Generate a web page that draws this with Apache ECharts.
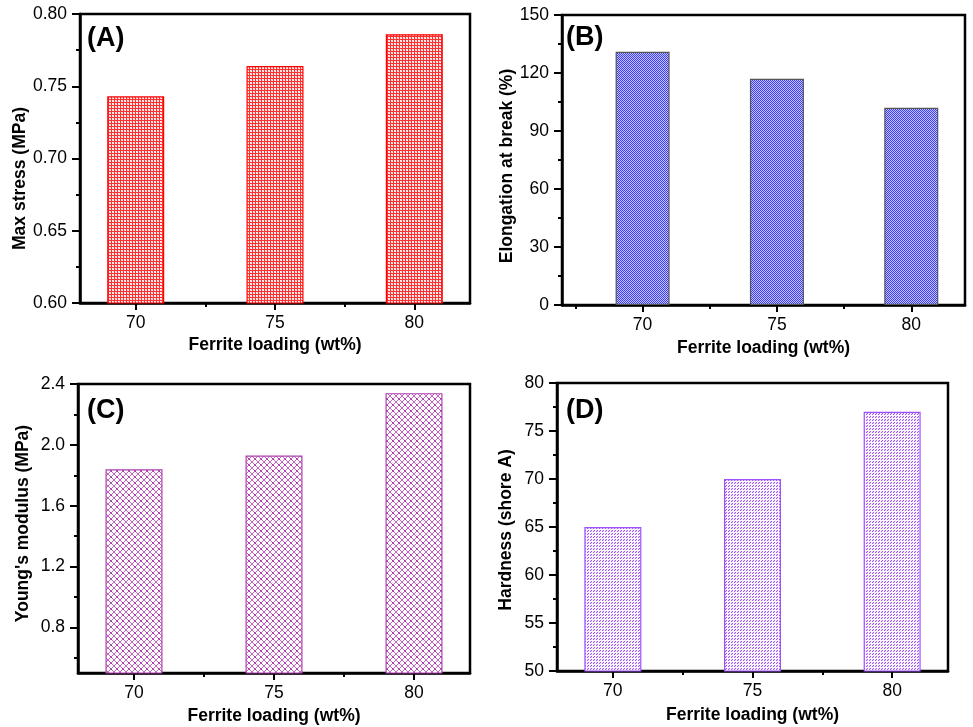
<!DOCTYPE html>
<html>
<head>
<meta charset="utf-8">
<script src="https://cdn.jsdelivr.net/npm/echarts@6/dist/echarts.min.js"></script>
<style>
  html, body { margin: 0; padding: 0; background: #fff; }
  #chart { width: 973px; height: 727px; }
</style>
</head>
<body>
<div id="chart"></div>
<script>
// Ferrite loading levels (wt%)
const loadings = [70, 75, 80];

// Measured properties for each loading
const maxStress = [0.743, 0.764, 0.786];      // MPa
const elongation = [131, 117, 102];           // %
const youngsModulus = [1.84, 1.93, 2.34];     // MPa
const hardness = [65, 70, 77];                // shore A

// Tick values
const xMajorTicks = [70, 75, 80];
const xMinorTicksA = [72.5, 77.5];
const xMinorTicksB = [67.5, 72.5, 77.5];
const stressTicks = [0.60, 0.65, 0.70, 0.75, 0.80];
const stressMinor = [0.625, 0.675, 0.725, 0.775];
const elongTicks = [0, 30, 60, 90, 120, 150];
const elongMinor = [15, 45, 75, 105, 135];
const modulusTicks = [0.8, 1.2, 1.6, 2.0, 2.4];
const modulusMinor = [0.6, 1.0, 1.4, 1.8, 2.2];
const hardTicks = [50, 55, 60, 65, 70, 75, 80];
const hardMinor = [52.5, 57.5, 62.5, 67.5, 72.5, 77.5];

const FONT = 'Liberation Sans, Arial, Helvetica, sans-serif';

// --- fill patterns -------------------------------------------------------
function makeTile(w, h, painter) {
  const c = document.createElement('canvas');
  c.width = w; c.height = h;
  const ctx = c.getContext('2d');
  ctx.fillStyle = '#ffffff';
  ctx.fillRect(0, 0, w, h);
  painter(ctx);
  return c;
}
function px(ctx, x, y, col) { ctx.fillStyle = col; ctx.fillRect(x, y, 1, 1); }

// red square grid
const gridTile = makeTile(3, 3, ctx => {
  for (let i = 0; i < 3; i++) { px(ctx, i, 0, '#ff3030'); px(ctx, 0, i, '#ff3030'); }
  px(ctx, 1, 2, '#ffd0d0'); px(ctx, 2, 1, '#ffd0d0');
});
// blue checker
const checkTile = makeTile(2, 2, ctx => {
  px(ctx, 0, 0, '#3c3cff'); px(ctx, 1, 1, '#3c3cff');
  px(ctx, 1, 0, '#c4c4ff'); px(ctx, 0, 1, '#c4c4ff');
});
// purple diagonal cross-hatch
const hatchTile = makeTile(6, 6, ctx => {
  for (let i = 0; i < 6; i++) {
    px(ctx, i, i, '#c466c4');
    px(ctx, i, 5 - i, '#c466c4');
  }
  px(ctx, 2, 2, '#9a2a9a'); px(ctx, 3, 3, '#9a2a9a');
});
// violet forward-slash stripes
const stripeTile = makeTile(3, 3, ctx => {
  for (let i = 0; i < 3; i++) px(ctx, i, 2 - i, '#a055f5');
  px(ctx, 0, 0, '#e6d4fd'); px(ctx, 1, 1, '#f6eeff'); px(ctx, 2, 2, '#e6d4fd');
});

// --- layout helpers -------------------------------------------------------
const grids = [
  { left: 80,  top: 14,  width: 390, height: 289 },
  { left: 562, top: 15,  width: 403, height: 290 },
  { left: 78,  top: 384, width: 392, height: 289 },
  { left: 557, top: 383, width: 391, height: 288 }
];

const axisLineStyle = { color: '#000', width: 2.5 };

function xAxes(gi, min, max, minor, nameGap) {
  return [
    {
      type: 'value', gridIndex: gi, position: 'bottom', min, max,
      name: 'Ferrite loading (wt%)', nameLocation: 'middle', nameGap,
      nameTextStyle: { fontFamily: FONT, fontSize: 17.5, fontWeight: 'bold', color: '#000' },
      axisLine: { show: true, onZero: false, lineStyle: axisLineStyle },
      axisTick: { show: true, inside: false, length: 7, lineStyle: { color: '#000', width: 2 }, customValues: xMajorTicks },
      axisLabel: { show: true, margin: 11, fontFamily: FONT, fontSize: 17.5, color: '#000', customValues: xMajorTicks },
      splitLine: { show: false }
    },
    {
      type: 'value', gridIndex: gi, position: 'bottom', min, max,
      axisLine: { show: false },
      axisTick: { show: true, inside: false, length: 4, lineStyle: { color: '#000', width: 2 }, customValues: minor },
      axisLabel: { show: false },
      splitLine: { show: false }
    }
  ];
}

function yAxes(gi, min, max, major, minor, name, nameGap, digits, namePad) {
  return [
    {
      type: 'value', gridIndex: gi, position: 'left', min, max,
      name, nameLocation: 'middle', nameGap, nameRotate: 90,
      nameTextStyle: { fontFamily: FONT, fontSize: 17.5, fontWeight: 'bold', color: '#000', padding: namePad },
      axisLine: { show: true, onZero: false, lineStyle: axisLineStyle },
      axisTick: { show: true, inside: false, length: 8, lineStyle: { color: '#000', width: 2 }, customValues: major },
      axisLabel: { show: true, margin: 13, fontFamily: FONT, fontSize: 17.5, color: '#000', customValues: major,
                   formatter: v => Number(v).toFixed(digits) },
      splitLine: { show: false }
    },
    {
      type: 'value', gridIndex: gi, position: 'left', min, max,
      axisLine: { show: false },
      axisTick: { show: true, inside: false, length: 4, lineStyle: { color: '#000', width: 2 }, customValues: minor },
      axisLabel: { show: false },
      splitLine: { show: false }
    }
  ];
}

function barSeries(gi, values, tile, border, width) {
  return {
    type: 'bar',
    xAxisIndex: gi * 2,
    yAxisIndex: gi * 2,
    barWidth: width,
    clip: true,
    data: loadings.map((x, i) => [x, values[i]]),
    itemStyle: { color: { image: tile, repeat: 'repeat' }, borderColor: border, borderWidth: 1.2 },
    emphasis: { disabled: true },
    z: 1
  };
}

function panelLabel(text, left, top) {
  return { text, left, top, padding: 0,
           textStyle: { fontFamily: FONT, fontSize: 27, fontWeight: 'bold', color: '#000' } };
}

const option = {
  backgroundColor: '#ffffff',
  animation: false,
  title: [
    panelLabel('(A)', 87, 25),
    panelLabel('(B)', 566, 24),
    panelLabel('(C)', 87, 397),
    panelLabel('(D)', 566, 397)
  ],
  grid: grids.map(g => Object.assign({ show: true, borderColor: '#000', borderWidth: 2.5, backgroundColor: 'transparent' }, g)),
  xAxis: [
    ...xAxes(0, 68, 82, xMinorTicksA, 33),
    ...xAxes(1, 67, 82, xMinorTicksB, 34),
    ...xAxes(2, 68, 82, xMinorTicksA, 34),
    ...xAxes(3, 68, 82, xMinorTicksA, 35)
  ],
  yAxis: [
    ...yAxes(0, 0.6, 0.8, stressTicks, stressMinor, 'Max stress (MPa)', 50, 2, [0, 40, 0, 0]),
    ...yAxes(1, 0, 150, elongTicks, elongMinor, 'Elongation at break (%)', 45, 0, [0, 12, 0, 0]),
    ...yAxes(2, 0.5, 2.4, modulusTicks, modulusMinor, "Young's modulus (MPa)", 46, 1, [0, 0, 0, 10]),
    ...yAxes(3, 50, 80, hardTicks, hardMinor, 'Hardness (shore A)', 42, 0, [0, 6, 0, 0])
  ],
  series: [
    barSeries(0, maxStress, gridTile, '#ff0000', 57),
    barSeries(1, elongation, checkTile, '#555555', 54),
    barSeries(2, youngsModulus, hatchTile, '#b040b0', 57),
    barSeries(3, hardness, stripeTile, '#a050ff', 57)
  ]
};

const chart = echarts.init(document.getElementById('chart'), null, { renderer: 'canvas' });
chart.setOption(option);
</script>
</body>
</html>
